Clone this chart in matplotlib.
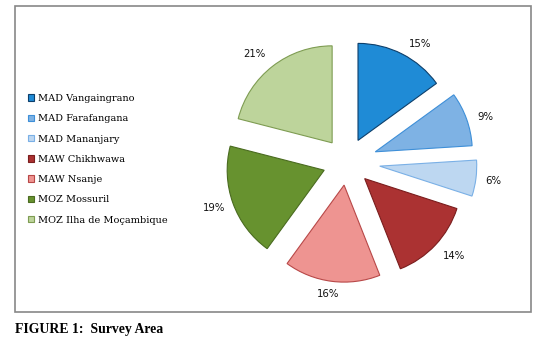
import matplotlib
matplotlib.use("Agg")
import matplotlib.pyplot as plt
from matplotlib.patches import Rectangle, Patch

# survey sites and their share (%)
sites = ['MAD Vangaingrano', 'MAD Farafangana', 'MAD Mananjary',
         'MAW Chikhwawa', 'MAW Nsanje', 'MOZ Mossuril', 'MOZ Ilha de Moçambique']
shares = [15, 9, 6, 14, 16, 19, 21]

colors = ['#1f8bd6', '#7eb2e4', '#bdd7f1', '#ab3232', '#ee9491', '#67922f', '#bdd49b']
edges = ['#0d3f6b', '#3e8fd8', '#7ab0e6', '#7a1d1d', '#b84848', '#4a6b20', '#7e9c52']
explode = [0.25, 0.31, 0.34, 0.25, 0.24, 0.25, 0.25]
# small nudges of the percent labels (pixels), like Excel's best-fit placement
label_shift = [(11, -5), (3, -4), (1, -1), (7, 0), (-2, 4), (-3, 1), (-8, -1)]

W, H = 550, 344
R = 97
fig = plt.figure(figsize=(5.5, 3.44), dpi=100)

# grey frame around the chart
fig.patches.append(Rectangle((15 / W, 32 / H), 516 / W, 306 / H, transform=fig.transFigure,
                             fill=False, edgecolor='#878787', linewidth=1.2))

ax = fig.add_axes([0, 0, 1, 1])
wedges, texts, autotexts = ax.pie(shares, colors=colors, explode=[e * R for e in explode],
                                  startangle=90, counterclock=False, center=(347, 182), radius=R,
                                  autopct='%.0f%%', pctdistance=1.17,
                                  textprops=dict(fontsize=7.3, color='#111111', family='DejaVu Sans'),
                                  wedgeprops=dict(linewidth=0.8))
for w, ec in zip(wedges, edges):
    w.set_edgecolor(ec)
for t, (dx, dy) in zip(autotexts, label_shift):
    x, y = t.get_position()
    t.set_position((x + dx, y + dy))
ax.set_xlim(0, W)
ax.set_ylim(0, H)
ax.set_aspect('equal')
ax.axis('off')

handles = [Patch(facecolor=c, edgecolor=e, linewidth=0.8) for c, e in zip(colors, edges)]
fig.legend(handles, sites, loc='upper left', bbox_to_anchor=(28 / W, 1 - 94 / H),
           frameon=False, handlelength=0.65, handleheight=0.65, handletextpad=0.35,
           labelspacing=1.16, borderaxespad=0, borderpad=0,
           prop=dict(family='DejaVu Serif', size=7))

fig.text(15 / W, 1 - 329 / H, 'FIGURE 1:  Survey Area', fontsize=9.9, fontweight='bold',
         family='Liberation Serif', va='center', ha='left')

fig.savefig('out.png', dpi=100)
